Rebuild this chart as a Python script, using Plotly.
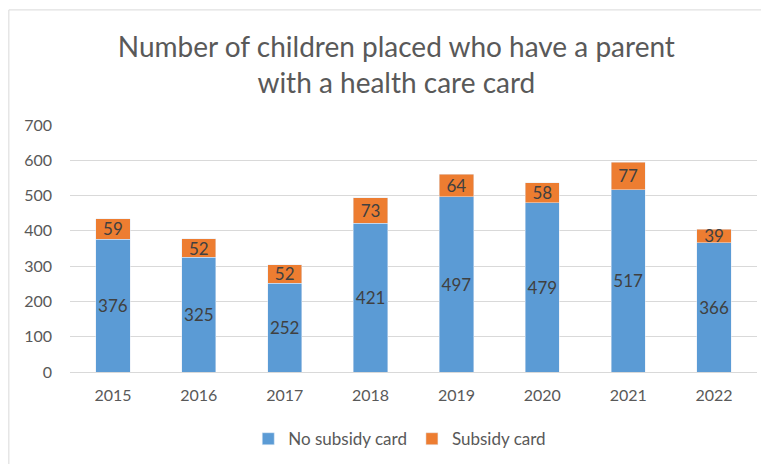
import plotly.graph_objects as go

years = ["2015", "2016", "2017", "2018", "2019", "2020", "2021", "2022"]
no_subsidy = [376, 325, 252, 421, 497, 479, 517, 366]
subsidy = [59, 52, 52, 73, 64, 58, 77, 39]
y_ticks = [0, 100, 200, 300, 400, 500, 600, 700]

font = "Lato, Open Sans, sans-serif"
fig = go.Figure()
fig.add_trace(go.Bar(x=years, y=no_subsidy, name="No subsidy card", marker_color="#5B9BD5",
                     text=no_subsidy, textposition="inside", insidetextanchor="middle",
                     constraintext="none",
                     textfont=dict(size=17, color="#404040", family=font), textangle=0))
fig.add_trace(go.Bar(x=years, y=subsidy, name="Subsidy card", marker_color="#ED7D31",
                     text=subsidy, textposition="inside", insidetextanchor="middle",
                     constraintext="none",
                     textfont=dict(size=17, color="#404040", family=font), textangle=0))

fig.update_layout(
    barmode="stack", bargap=0.6,
    width=769, height=464,
    margin=dict(l=62, r=20, t=117, b=100, autoexpand=False),
    paper_bgcolor="white", plot_bgcolor="white",
    font=dict(family=font, color="#595959", size=13),
    title=dict(text="Number of children placed who have a parent<br>with a health care card",
               x=0.505, xanchor="center", y=0.895, yanchor="top",
               font=dict(size=28, color="#595959", family=font)),
    legend=dict(orientation="h", x=0.48, xanchor="center", y=-0.272, yanchor="middle",
                font=dict(size=17, color="#595959"), traceorder="normal"),
    uniformtext=dict(mode=False),
)
fig.update_xaxes(showgrid=False, showline=True, linecolor="#d9d9d9", ticks="", automargin=False,
                 tickfont=dict(size=16, color="#595959"), ticklabelstandoff=9)
fig.update_yaxes(range=[0, 700], tickvals=y_ticks, showgrid=True, gridcolor="#d9d9d9",
                 zeroline=False, showline=False, tickfont=dict(size=16, color="#595959"),
                 automargin=False, ticklabelstandoff=17)
fig.add_shape(type="rect", xref="paper", yref="paper", x0=-0.089, x1=1.2, y0=-0.5, y1=1.466,
              line=dict(color="#d9d9d9", width=1), fillcolor="rgba(0,0,0,0)", layer="below")
fig.write_html("out.html")
